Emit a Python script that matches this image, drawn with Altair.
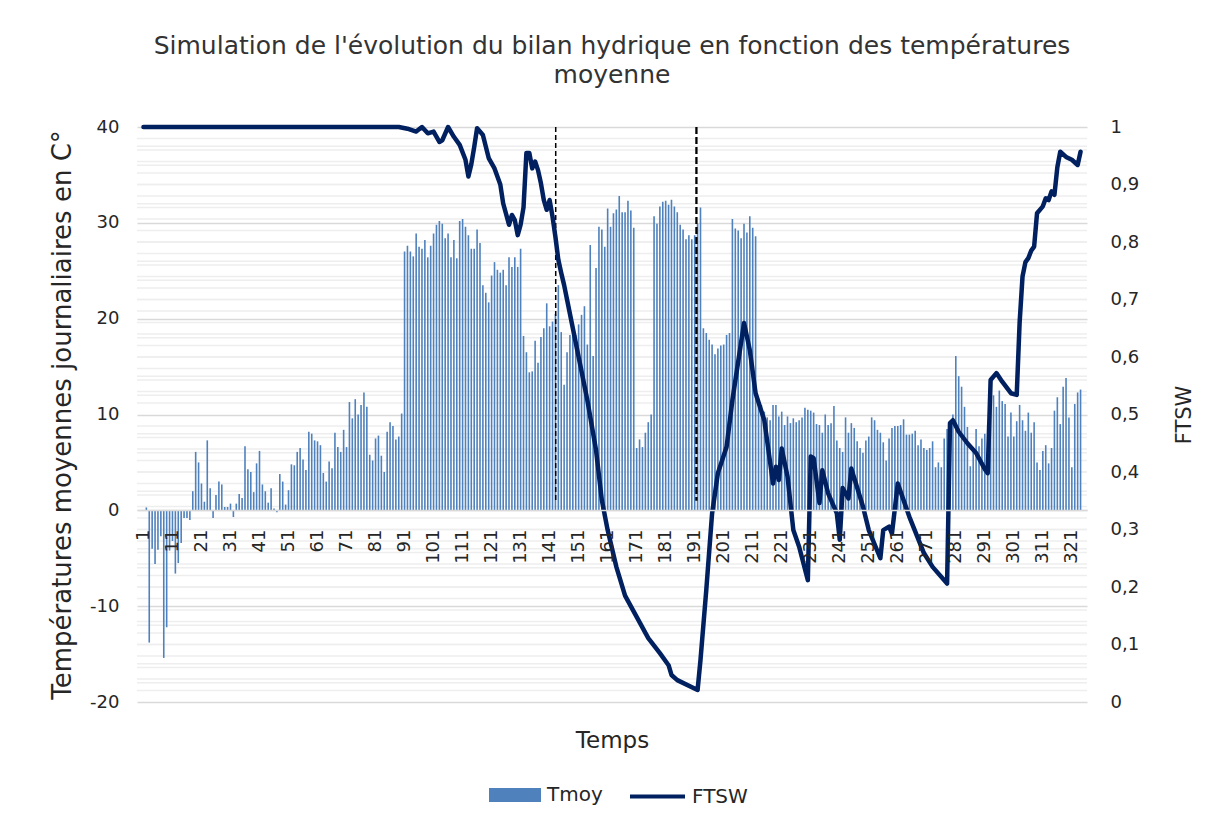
import altair as alt
import pandas as pd

# ---------------- data ----------------
tmoy = [
    0.0, 0.3, -13.8, -4.0, -5.6, -4.1, -2.7, -15.4, -12.2, -4.2,
    -3.2, -6.6, -5.5, -3.4, -0.8, -0.8, -1.0,
    2.0, 6.1, 5.0, 2.8, 0.9, 7.3, 2.3, -0.8, 1.6, 3.0,
    2.7, 0.35, 0.35, 0.7, -0.7, 0.7, 1.7, 1.3, 6.7, 4.3,
    4.0, 1.9, 4.9, 6.2, 2.7, 2.0, 0.8, 2.3, 0.2, -0.2,
    3.8, 3.0, 0.6, 2.1, 4.8, 4.7, 6.1, 6.5, 5.3, 4.2,
    8.2, 8.0, 7.3, 7.2, 6.8, 3.9, 3.0, 5.1, 4.4, 8.1,
    6.6, 6.1, 8.4, 6.6, 11.3, 9.6, 11.6, 10.0, 11.0, 12.3,
    10.8, 5.8, 5.2, 7.5, 7.8, 5.7, 4.0, 8.2, 9.2, 8.8,
    7.4, 7.7, 10.1,
    27.0, 27.6, 27.0, 26.5, 28.9, 27.5, 27.3, 28.2, 26.4, 27.6,
    28.9, 29.8, 30.2, 29.9, 28.4, 28.9, 26.4, 28.2, 26.3, 30.2,
    30.4, 29.6, 28.7, 27.3, 27.3, 29.3, 27.9, 23.5, 22.7, 21.7,
    24.5, 25.9, 25.1, 24.8, 25.1, 23.5, 26.4, 25.4, 26.4, 25.4,
    27.3,
    18.2, 16.5, 14.4, 14.5, 17.7, 15.4, 18.1, 19.0, 21.6, 19.2,
    19.7, 20.5, 23.5, 18.6, 13.1, 16.5, 18.3, 18.5, 18.3, 19.4,
    20.4, 21.3, 17.3, 27.7, 16.1, 25.3, 29.6, 29.3, 27.5, 31.5,
    29.6, 31.0, 31.4, 32.8, 31.1, 31.1, 32.3, 31.3, 29.5, 6.5,
    7.4, 6.6, 8.1, 9.2, 10.0, 30.7, 29.9, 31.7, 32.2, 32.3,
    31.9, 32.4, 31.7, 31.1, 29.8, 29.3, 28.3, 28.7, 28.3, 28.7,
    29.9, 31.6,
    19.0, 18.5, 17.8, 17.3, 16.3, 16.9, 17.2, 17.3, 18.3, 18.5,
    30.4, 29.4, 29.2, 28.4, 29.9, 29.0, 30.7, 29.5, 28.6,
    11.5, 11.0, 10.3,
    9.7, 9.4, 11.0, 11.0, 9.8, 10.3, 8.9, 9.8, 9.1, 9.6,
    9.2, 9.4, 9.7, 10.7, 10.5, 10.4, 10.2, 9.0, 8.9, 8.1,
    10.0, 8.9, 9.1, 10.9, 7.3, 6.5, 6.1, 9.7, 8.1, 9.1,
    8.6, 7.2, 6.5, 6.0, 7.3, 7.7, 9.7, 9.4, 8.4, 8.1,
    7.1, 5.2, 7.5, 8.6,
    8.8, 8.8, 8.9, 9.5, 7.9, 7.9, 8.0, 8.3, 6.8, 7.4,
    6.5, 6.3, 6.5, 7.2, 4.5, 5.0, 4.5, 7.5,
    8.5, 9.0, 10.0,
    16.1, 14.0, 12.9, 10.8, 8.7, 4.6, 6.4, 8.5, 6.7,
    7.5, 8.0, 9.0, 11.0,
    12.0,
    10.8, 12.5, 11.4, 11.1, 7.7, 10.2, 7.7, 9.3, 11.0, 9.4,
    8.3, 10.2, 8.1, 9.2, 5.0, 4.2, 6.2, 6.8, 4.9, 6.5,
    10.4, 11.8, 9.0, 12.9, 13.8, 9.7, 4.5, 11.1, 12.3, 12.6,
]
days = list(range(1, len(tmoy) + 1))

ftsw_points = [
    (1, 1.0), (89, 1.0), (92, 0.997), (95, 0.992), (97, 1.0), (99, 0.989),
    (101, 0.992), (103, 0.974), (104, 0.977), (106, 1.0), (108, 0.983),
    (110, 0.969), (112, 0.943), (113, 0.914), (114, 0.935), (115, 0.965),
    (116, 0.998), (118, 0.986), (120, 0.946), (122, 0.928), (124, 0.900),
    (125, 0.867), (127, 0.830), (128, 0.847), (129, 0.838), (130, 0.812),
    (131, 0.830), (132, 0.860), (133, 0.955), (134, 0.955), (135, 0.928),
    (136, 0.940), (137, 0.925), (138, 0.902), (139, 0.873), (140, 0.856),
    (141, 0.873), (142, 0.844), (143, 0.809), (144, 0.769), (145, 0.746),
    (146, 0.725), (147, 0.700), (149, 0.650), (151, 0.600), (154, 0.525),
    (157, 0.438), (159, 0.351), (161, 0.299), (164, 0.235), (167, 0.185),
    (171, 0.148), (175, 0.111), (179, 0.085), (182, 0.064), (183, 0.047),
    (185, 0.038), (192, 0.021), (193, 0.073), (195, 0.195), (197, 0.328),
    (199, 0.398), (202, 0.444), (204, 0.525), (208, 0.659), (210, 0.612),
    (212, 0.537), (215, 0.490), (218, 0.380), (219, 0.409), (220, 0.386),
    (221, 0.441), (223, 0.392), (225, 0.299), (227, 0.270), (230, 0.212),
    (231, 0.427), (232, 0.424), (234, 0.346), (235, 0.403), (237, 0.363),
    (240, 0.328), (241, 0.282), (242, 0.372), (244, 0.354), (245, 0.406),
    (249, 0.340), (251, 0.299), (255, 0.250), (256, 0.299), (258, 0.305),
    (259, 0.293), (261, 0.380), (265, 0.322), (270, 0.259), (273, 0.235),
    (278, 0.206), (279, 0.485), (280, 0.490), (282, 0.470), (285, 0.450),
    (288, 0.433), (291, 0.405), (292, 0.398), (293, 0.560), (295, 0.572),
    (297, 0.557), (300, 0.537), (302, 0.534), (303, 0.660), (304, 0.740),
    (305, 0.765), (306, 0.772), (307, 0.785), (308, 0.792), (309, 0.850),
    (311, 0.862), (312, 0.876), (313, 0.873), (314, 0.888), (315, 0.882),
    (316, 0.930), (317, 0.957), (319, 0.948), (321, 0.943), (323, 0.934),
    (324, 0.957),
]
ftsw_day = [p[0] for p in ftsw_points]
ftsw_val = [p[1] for p in ftsw_points]

x_tick_labels = [1, 11, 21, 31, 41, 51, 61, 71, 81, 91, 101, 111, 121, 131, 141,
                 151, 161, 171, 181, 191, 201, 211, 221, 231, 241, 251, 261, 271,
                 281, 291, 301, 311, 321]
left_ticks = [-20, -10, 0, 10, 20, 30, 40]
right_ticks = [0, 0.1, 0.2, 0.3, 0.4, 0.5, 0.6, 0.7, 0.8, 0.9, 1]
left_minor = [-18, -16, -14, -12, -8, -6, -4, -2, 2, 4, 6, 8, 12, 14, 16, 18,
              22, 24, 26, 28, 32, 34, 36, 38]
right_minor = [0.02, 0.04, 0.06, 0.08, 0.1, 0.12, 0.14, 0.16, 0.18, 0.2, 0.22,
               0.24, 0.26, 0.28, 0.3, 0.32, 0.34, 0.36, 0.38, 0.4, 0.42, 0.44,
               0.46, 0.48, 0.52, 0.54, 0.56, 0.58, 0.6, 0.62, 0.64, 0.66, 0.68,
               0.7, 0.72, 0.74, 0.76, 0.78, 0.8, 0.82, 0.84, 0.86, 0.88, 0.9,
               0.92, 0.94, 0.96, 0.98]
marker_day = [143.1, 191.6]
marker_top = [40, 40]
marker_bottom = [1, 1]

# ---------------- chart ----------------
FONT = "DejaVu Sans"
TXT = "#262626"
W, H = 950, 575

xscale = alt.Scale(domain=[0.5, 324.5], nice=False, zero=False)
yL = alt.Scale(domain=[-20, 40], nice=False)
yR = alt.Scale(domain=[0, 1], nice=False)

# one shared x axis definition, used identically by every layer so it merges
xaxis = alt.Axis(
    values=x_tick_labels, labelAngle=270, labelFontSize=18, labelFont=FONT,
    labelColor=TXT, labelPadding=19, ticks=False, tickSize=0,
    domain=True, domainColor="#d9d9d9", domainWidth=1.3, grid=False,
    offset=-192, zindex=1, labelOverlap=False, labelFlush=False,
    labelBound=False,
    title="Temps", titleFont=FONT, titleFontSize=23, titleFontWeight="normal",
    titleColor=TXT, titleY=230, titleBaseline="middle",
)
X = alt.X("day:Q", scale=xscale, axis=xaxis)

bars_df = pd.DataFrame({"day": days, "tmoy": tmoy, "serie": "Tmoy"})
line_df = pd.DataFrame({"day": ftsw_day, "ftsw": ftsw_val, "serie": "FTSW"})
lminor_df = pd.DataFrame({"v": left_minor})
rminor_df = pd.DataFrame({"v": right_minor})
mk_df = pd.DataFrame({"day": marker_day, "top": marker_top, "bottom": marker_bottom,
                      "idx": [0, 1]})

rgrid = alt.Chart(rminor_df).mark_rule(color="#eeeeee", strokeWidth=1.5).encode(
    y=alt.Y("v:Q", scale=yR, axis=None)
)

lgrid = alt.Chart(lminor_df).mark_rule(color="#eeeeee", strokeWidth=1.5).encode(
    y=alt.Y("v:Q", scale=yL, axis=None)
)

bars = alt.Chart(bars_df).mark_bar(size=1.6).encode(
    x=X,
    y=alt.Y(
        "tmoy:Q", scale=yL,
        axis=alt.Axis(
            values=left_ticks, orient="left", grid=True, gridColor="#d9d9d9",
            gridWidth=1.3, domain=False, ticks=False, tickSize=0,
            labelFontSize=18, labelFont=FONT, labelColor=TXT, labelPadding=18,
            labelExpr="'' + datum.value",
            title="Températures moyennes journaliaires en C°", titleFont=FONT,
            titleFontSize=26, titleFontWeight="normal", titleColor=TXT,
            titleAngle=270, titleX=-75, titleBaseline="middle",
        ),
    ),
    y2=alt.datum(0),
    color=alt.Color(
        "serie:N", scale=alt.Scale(domain=["Tmoy"], range=["#4f81bd"]),
        legend=alt.Legend(
            title=None, orient="none", legendX=352, legendY=642, padding=0,
            symbolType="M-1,-0.27H1V0.27H-1Z", symbolSize=2704, symbolStrokeWidth=0,
            symbolOpacity=1, labelFontSize=20, labelFont=FONT, labelColor=TXT,
            labelOffset=6,
        ),
    ),
)

mk1 = alt.Chart(mk_df).transform_filter(alt.datum.idx == 0).mark_rule(
    color="#000000", strokeWidth=1.5, strokeDash=[5, 3]
).encode(x=X, y=alt.Y("top:Q", scale=yL, axis=None), y2="bottom:Q")

mk2 = alt.Chart(mk_df).transform_filter(alt.datum.idx == 1).mark_rule(
    color="#000000", strokeWidth=2.3, strokeDash=[7, 3]
).encode(x=X, y=alt.Y("top:Q", scale=yL, axis=None), y2="bottom:Q")

line = alt.Chart(line_df).mark_line(strokeWidth=4.5, strokeJoin="round", strokeCap="round").encode(
    x=X,
    y=alt.Y(
        "ftsw:Q", scale=yR,
        axis=alt.Axis(
            values=right_ticks, orient="right", grid=False, domain=False, ticks=False,
            tickSize=0, labelFontSize=18, labelFont=FONT, labelColor=TXT,
            labelPadding=23,
            labelExpr="datum.value == 0 ? '0' : datum.value == 1 ? '1' : replace(format(datum.value, '.1f'), '.', ',')",
            title="FTSW", titleFont=FONT, titleFontSize=21, titleFontWeight="normal",
            titleColor=TXT, titleAngle=270, titleX=97, titleBaseline="middle",
        ),
    ),
    stroke=alt.Stroke(
        "serie:N", scale=alt.Scale(domain=["FTSW"], range=["#002060"]),
        legend=alt.Legend(
            title=None, orient="none", legendX=491, legendY=640, padding=0,
            symbolType="stroke", symbolSize=3025, symbolStrokeWidth=4,
            labelFontSize=20, labelFont=FONT, labelColor=TXT, labelOffset=5,
        ),
    ),
    order=alt.Order("day:Q"),
)

chart = alt.layer(rgrid, lgrid, bars, mk1, mk2, line).resolve_scale(
    y="independent"
).properties(
    width=W,
    height=H,
    title=alt.TitleParams(
        text=["Simulation de l'évolution du bilan hydrique en fonction des températures",
              "moyenne"],
        font=FONT, fontSize=25, fontWeight="normal", color="#333333",
        anchor="middle", offset=30, lineHeight=29,
    ),
    autosize=alt.AutoSizeParams(type="none"),
    padding={"left": 129, "top": 119, "right": 110, "bottom": 110},
    background="white",
).configure_view(stroke=None).configure_legend(symbolStrokeWidth=4)

chart.save("out.html", embed_options={"renderer": "svg", "actions": False})
